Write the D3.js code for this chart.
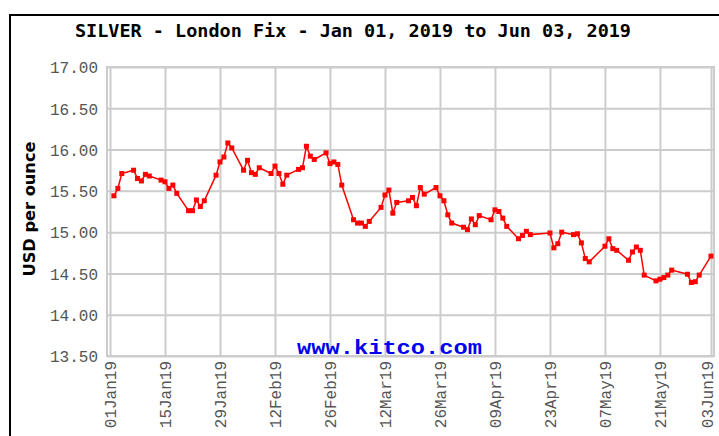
<!DOCTYPE html>
<html>
<head>
<meta charset="utf-8">
<script src="https://cdn.jsdelivr.net/npm/d3@7"></script>
<style>
  body { margin: 0; background: #fff; }
</style>
</head>
<body>
<div id="chart"></div>
<script>
var titleText = "SILVER - London Fix - Jan 01, 2019 to Jun 03, 2019";
var yLabel = "USD per ounce";
var watermark = "www.kitco.com";

// daily fix, trading days only
var dates = [
  "2019-01-02","2019-01-03","2019-01-04","2019-01-07","2019-01-08","2019-01-09","2019-01-10","2019-01-11",
  "2019-01-14","2019-01-15","2019-01-16","2019-01-17","2019-01-18","2019-01-21","2019-01-22","2019-01-23",
  "2019-01-24","2019-01-25","2019-01-28","2019-01-29","2019-01-30","2019-01-31","2019-02-01","2019-02-04",
  "2019-02-05","2019-02-06","2019-02-07","2019-02-08","2019-02-11","2019-02-12","2019-02-13","2019-02-14",
  "2019-02-15","2019-02-18","2019-02-19","2019-02-20","2019-02-21","2019-02-22","2019-02-25","2019-02-26",
  "2019-02-27","2019-02-28","2019-03-01","2019-03-04","2019-03-05","2019-03-06","2019-03-07","2019-03-08",
  "2019-03-11","2019-03-12","2019-03-13","2019-03-14","2019-03-15","2019-03-18","2019-03-19","2019-03-20",
  "2019-03-21","2019-03-22","2019-03-25","2019-03-26","2019-03-27","2019-03-28","2019-03-29","2019-04-01",
  "2019-04-02","2019-04-03","2019-04-04","2019-04-05","2019-04-08","2019-04-09","2019-04-10","2019-04-11",
  "2019-04-12","2019-04-15","2019-04-16","2019-04-17","2019-04-18","2019-04-23","2019-04-24","2019-04-25",
  "2019-04-26","2019-04-29","2019-04-30","2019-05-01","2019-05-02","2019-05-03","2019-05-07","2019-05-08",
  "2019-05-09","2019-05-10","2019-05-13","2019-05-14","2019-05-15","2019-05-16","2019-05-17","2019-05-20",
  "2019-05-21","2019-05-22","2019-05-23","2019-05-24","2019-05-28","2019-05-29","2019-05-30","2019-05-31",
  "2019-06-03"
];
var prices = [
  15.44,15.53,15.71,15.75,15.65,15.62,15.70,15.68,
  15.63,15.61,15.53,15.57,15.47,15.26,15.26,15.39,
  15.31,15.38,15.69,15.85,15.91,16.08,16.02,15.75,
  15.87,15.72,15.70,15.78,15.71,15.80,15.71,15.58,
  15.69,15.76,15.78,16.04,15.92,15.88,15.96,15.83,
  15.85,15.82,15.57,15.15,15.11,15.11,15.07,15.13,
  15.30,15.45,15.51,15.23,15.36,15.38,15.42,15.32,
  15.54,15.46,15.54,15.44,15.38,15.21,15.11,15.06,
  15.03,15.16,15.09,15.20,15.15,15.27,15.25,15.17,
  15.07,14.92,14.96,15.01,14.97,14.99,14.81,14.86,
  15.00,14.97,14.98,14.87,14.68,14.64,14.83,14.92,
  14.80,14.78,14.66,14.76,14.82,14.78,14.48,14.41,
  14.43,14.45,14.48,14.54,14.49,14.39,14.40,14.48,
  14.71
];

var xTickDates = ["2019-01-01","2019-01-15","2019-01-29","2019-02-12","2019-02-26","2019-03-12",
  "2019-03-26","2019-04-09","2019-04-23","2019-05-07","2019-05-21","2019-06-03"];
var xTickLabels = ["01Jan19","15Jan19","29Jan19","12Feb19","26Feb19","12Mar19",
  "26Mar19","09Apr19","23Apr19","07May19","21May19","03Jun19"];
var yTicks = [17.00, 16.50, 16.00, 15.50, 15.00, 14.50, 14.00, 13.50];

var width = 719, height = 436;
var plotLeft = 107, plotRight = 714, plotTop = 67, plotBottom = 356;

var parse = d3.utcParse("%Y-%m-%d");
var data = dates.map(function(d, i) { return { date: parse(d), value: prices[i] }; });
var tickDates = xTickDates.map(parse);

var x = d3.scaleUtc()
  .domain([tickDates[0], tickDates[tickDates.length - 1]])
  .range([110, 711]);

var y = d3.scaleLinear()
  .domain([d3.min(yTicks), d3.max(yTicks)])
  .range([plotBottom, plotTop]);

var svg = d3.select("#chart")
  .append("svg")
  .attr("width", width)
  .attr("height", height)
  .style("display", "block");

// outer black frame (runs off the page on the right and bottom)
svg.append("path")
  .attr("d", "M10," + (height + 10) + "V15H" + (width + 10))
  .attr("fill", "none")
  .attr("stroke", "#000")
  .attr("stroke-width", 2);

svg.append("text")
  .attr("x", 353)
  .attr("y", 37)
  .attr("text-anchor", "middle")
  .attr("font-family", "'DejaVu Sans Mono', monospace")
  .attr("font-weight", "bold")
  .attr("font-size", "18px")
  .attr("textLength", 556)
  .attr("lengthAdjust", "spacingAndGlyphs")
  .style("fill", "#000")
  .text(titleText);

// plot border
svg.append("rect")
  .attr("x", plotLeft)
  .attr("y", plotTop)
  .attr("width", plotRight - plotLeft)
  .attr("height", plotBottom - plotTop)
  .attr("fill", "#fff")
  .attr("stroke", "#ccc")
  .attr("stroke-width", 2);

// y axis + horizontal grid
var yAxis = svg.append("g")
  .attr("transform", "translate(" + plotLeft + ",0)")
  .call(d3.axisLeft(y)
    .tickValues(yTicks)
    .tickSizeInner(-(plotRight - plotLeft))
    .tickSizeOuter(0)
    .tickPadding(9)
    .tickFormat(d3.format(".2f")));
yAxis.select(".domain").remove();
yAxis.selectAll("line").attr("stroke", "#ccc").attr("stroke-width", 2);
yAxis.selectAll("text")
  .attr("font-family", "'Liberation Mono', 'Courier New', monospace")
  .attr("font-size", "16px")
  .attr("dy", "0.36em")
  .style("fill", "#555");

// x axis + vertical grid
var xAxis = svg.append("g")
  .attr("transform", "translate(0," + plotBottom + ")")
  .call(d3.axisBottom(x)
    .tickValues(tickDates)
    .tickSizeInner(-(plotBottom - plotTop))
    .tickSizeOuter(0)
    .tickFormat(function(d, i) { return xTickLabels[i]; }));
xAxis.select(".domain").remove();
xAxis.selectAll("line").attr("stroke", "#ccc").attr("stroke-width", 2);
xAxis.selectAll("text")
  .attr("transform", "rotate(-90)")
  .attr("text-anchor", "end")
  .attr("x", -5)
  .attr("y", 0)
  .attr("dy", function(d, i) { return i === xTickLabels.length - 1 ? "0.1em" : "0.36em"; })
  .attr("font-family", "'Liberation Mono', 'Courier New', monospace")
  .attr("font-size", "16px")
  .style("fill", "#555");

svg.append("text")
  .attr("transform", "translate(35,209) rotate(-90)")
  .attr("text-anchor", "middle")
  .attr("font-family", "'DejaVu Sans', sans-serif")
  .attr("font-weight", "bold")
  .attr("font-size", "15px")
  .attr("textLength", 135)
  .attr("lengthAdjust", "spacingAndGlyphs")
  .style("fill", "#000")
  .text(yLabel);

svg.append("text")
  .attr("x", 389.5)
  .attr("y", 354)
  .attr("text-anchor", "middle")
  .attr("font-family", "'Liberation Mono', 'Courier New', monospace")
  .attr("font-weight", "bold")
  .attr("font-size", "21px")
  .attr("textLength", 185)
  .attr("lengthAdjust", "spacingAndGlyphs")
  .style("fill", "#0000ee")
  .text(watermark);

var line = d3.line()
  .x(function(d) { return x(d.date); })
  .y(function(d) { return y(d.value); });

svg.append("path")
  .datum(data)
  .attr("d", line)
  .attr("fill", "none")
  .attr("stroke", "#ff0000")
  .attr("stroke-width", 1.5);

svg.selectAll("rect.pt")
  .data(data)
  .enter()
  .append("rect")
  .attr("class", "pt")
  .attr("x", function(d) { return x(d.date) - 2.5; })
  .attr("y", function(d) { return y(d.value) - 2.5; })
  .attr("width", 5)
  .attr("height", 5)
  .style("fill", "#ff0000");
</script>
</body>
</html>
